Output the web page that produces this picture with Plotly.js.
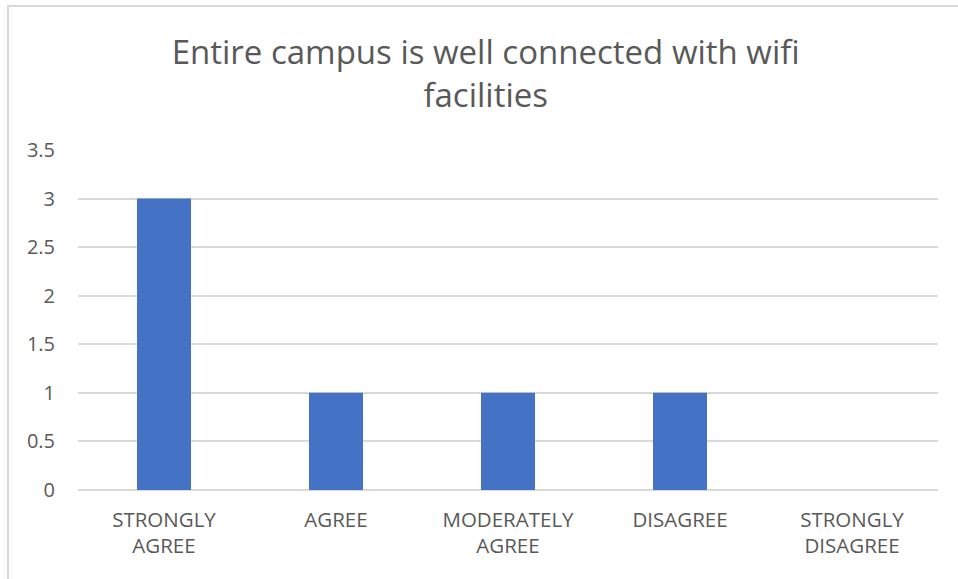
<!DOCTYPE html>
<html>
<head>
<meta charset="utf-8">
<script src="https://cdn.plot.ly/plotly-3.0.1.min.js"></script>
<style>
  html, body { margin: 0; padding: 0; background: #fff; }
  #wrap { position: relative; width: 958px; height: 579px; overflow: hidden; }
  #chart { width: 958px; height: 579px; }
  #frame { position: absolute; left: 7px; top: 5px; width: 1000px; height: 1000px;
           border-left: 2px solid #D9D9D9; border-top: 2px solid #D9D9D9; pointer-events: none; }
</style>
</head>
<body>
<div id="wrap">
  <div id="chart"></div>
  <div id="frame"></div>
</div>
<script>
const categories = ["STRONGLY<br>AGREE", "AGREE", "MODERATELY<br>AGREE", "DISAGREE", "STRONGLY<br>DISAGREE"];
const values = [3, 1, 1, 1, 0];
const yTicks = [0, 0.5, 1, 1.5, 2, 2.5, 3, 3.5];
const yTickLabels = ["0", "0.5", "1", "1.5", "2", "2.5", "3", "3.5"];
const titleText = "Entire campus is well connected with wifi<br>facilities";

const fontFam = "'Open Sans', sans-serif";
const trace = {
  type: "bar",
  x: categories,
  y: values,
  marker: { color: "#4472C4" },
  hoverinfo: "x+y"
};
const layout = {
  width: 958, height: 579,
  margin: { l: 78, r: 20, t: 150, b: 89 },
  paper_bgcolor: "#ffffff",
  plot_bgcolor: "#ffffff",
  bargap: 0.686,
  showlegend: false,
  title: {
    text: titleText,
    font: { family: fontFam, size: 33, color: "#595959" },
    x: 0.507, xanchor: "center",
    y: 0.89, yanchor: "middle"
  },
  xaxis: {
    type: "category",
    tickfont: { family: fontFam, size: 20.5, color: "#595959" },
    showgrid: false, zeroline: false, showline: false,
    ticks: "", ticklen: 0, ticklabelstandoff: 15
  },
  yaxis: {
    range: [0, 3.5],
    tickvals: yTicks, ticktext: yTickLabels,
    tickfont: { family: fontFam, size: 20, color: "#595959" },
    showgrid: true, gridcolor: "#D9D9D9", gridwidth: 1.5,
    zeroline: true, zerolinecolor: "#D9D9D9", zerolinewidth: 1.5,
    showline: false, ticks: "", ticklabelstandoff: 22
  }
};
Plotly.newPlot("chart", [trace], layout, { displayModeBar: false, staticPlot: false });
</script>
</body>
</html>
